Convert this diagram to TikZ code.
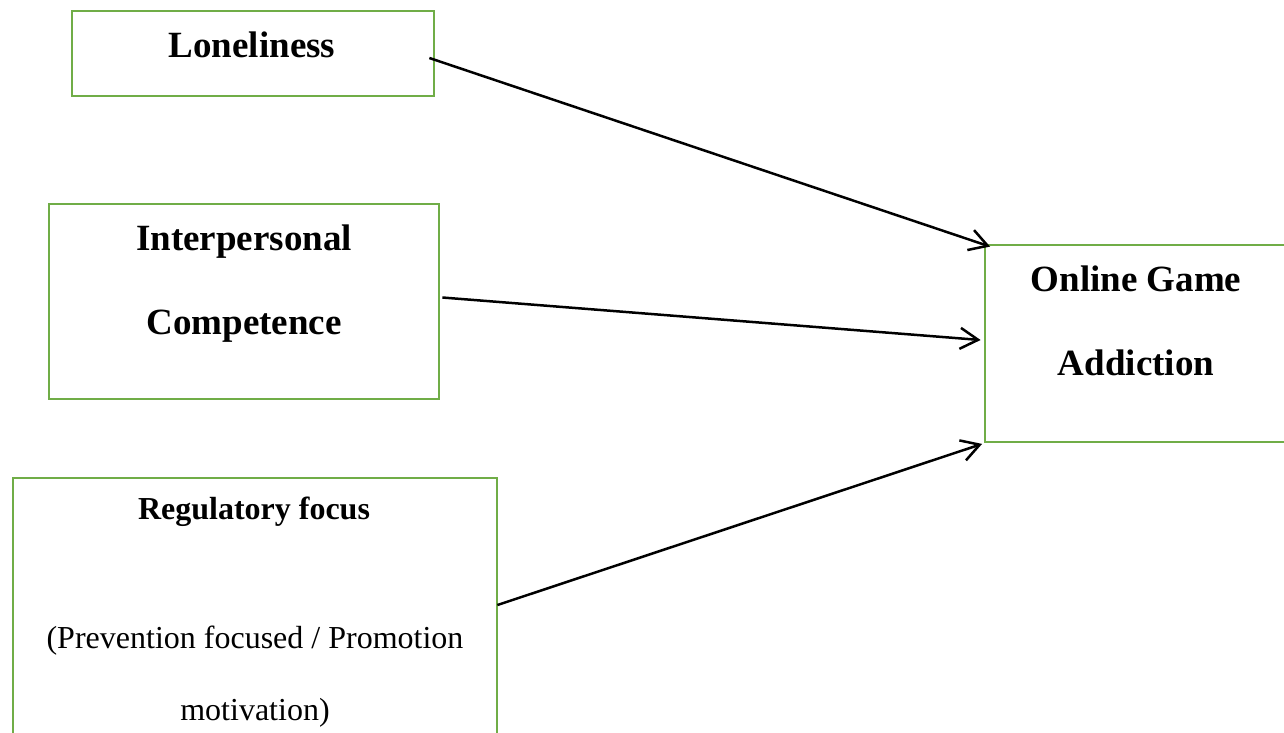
\documentclass[tikz,border=0pt]{standalone}
\usepackage{fontspec}
\setmainfont{Liberation Serif}
\usetikzlibrary{arrows.meta,calc}
\definecolor{boxgreen}{HTML}{70AD47}
\tikzset{
  box/.style={draw=boxgreen, line width=2.8pt, rectangle, inner sep=0pt},
  bigtxt/.style={font=\fontsize{37}{40}\selectfont\bfseries, anchor=base, inner sep=0pt},
  smbold/.style={font=\fontsize{32}{36}\selectfont\bfseries, anchor=base, inner sep=0pt},
  smtxt/.style={font=\fontsize{32}{36}\selectfont, anchor=base, inner sep=0pt},
  link/.style={line width=2.5pt, -{Straight Barb[length=18pt,width=21pt,line width=2.5pt]}}
}
\begin{document}
\begin{tikzpicture}[x=1pt,y=-1pt]
\useasboundingbox (0,0) rectangle (1284,732);
\clip (0,0) rectangle (1284,732);
\fill[white] (0,0) rectangle (1284,732);
% boxes
\node[box, minimum width=362pt, minimum height=85pt] (lon) at (253,53.5) {};
\node[box, minimum width=390pt, minimum height=195pt] (ipc) at (244,301.5) {};
\node[box, minimum width=484pt, minimum height=290pt] (reg) at (255,623) {};
\node[box, minimum width=310pt, minimum height=197pt] (oga) at (1140,343.5) {};
% texts
\node[bigtxt] (t1) at (252,57) {Loneliness};
\node[bigtxt] (t2) at (244,250) {Interpersonal};
\node[bigtxt] (t3) at (244,334) {Competence};
\node[bigtxt] (t4) at (1136,291) {Online Game};
\node[bigtxt] (t5) at (1136,375) {Addiction};
\node[smbold] (t6) at (254,519) {Regulatory focus};
\node[smtxt] (t7) at (255,648) {(Prevention focused / Promotion};
\node[smtxt] (t8) at (255,720) {motivation)};
% connector end points
\coordinate (s1) at ($(lon.east)+(-6,4.5)$);
\coordinate (s2) at ($(ipc.east)+(2,-4)$);
\coordinate (s3) at ($(reg.east)+(-1,-18)$);
\coordinate (e1) at ($(oga.north west)+(6.5,3)$);
\coordinate (e2) at ($(oga.west)+(-3,-3.5)$);
\coordinate (e3) at ($(oga.south west)+(-1.5,0.5)$);
\draw[link] (s1) -- (e1);
\draw[link] (s2) -- (e2);
\draw[link] (s3) -- (e3);
\end{tikzpicture}
\end{document}
